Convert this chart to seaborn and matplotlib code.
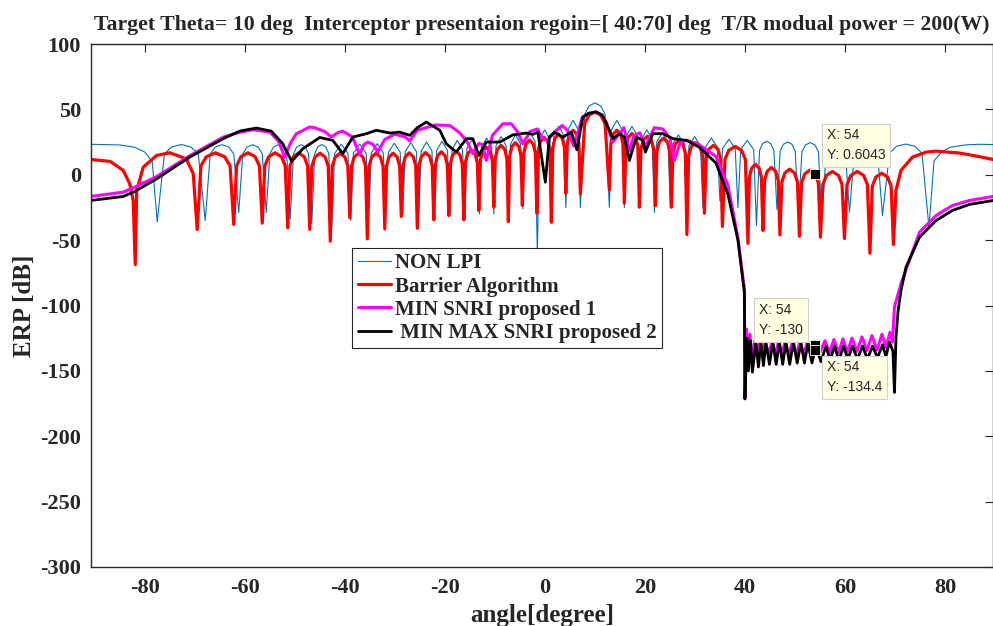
import matplotlib
matplotlib.use("Agg")
import matplotlib.pyplot as plt
import seaborn as sns

# NON LPI (uniform weights): peak / shoulder / null vertices
nonlpi_deg = [-90.8, -85.0, -82.0, -80.0, -78.5, -77.5,
              -76.06, -74.6, -72.7, -70.8, -69.3, -67.9,
              -66.9, -65.9, -64.55, -63.2, -62.2, -61.2,
              -60.4, -59.55, -58.45, -57.35, -56.5, -55.7,
              -54.98, -54.26, -53.3, -52.34, -51.62, -50.9,
              -50.26, -49.61, -48.75, -47.89, -47.25, -46.6,
              -46.0, -45.4, -44.6, -43.8, -43.2, -42.6,
              -42.03, -40.7, -39.37, -38.8,
              -38.26, -37.0, -35.74, -35.2,
              -34.69, -33.5, -32.31, -31.8,
              -31.29, -30.1, -28.91, -28.4,
              -27.92, -26.8, -25.68, -25.2,
              -24.73, -23.65, -22.57, -22.1,
              -21.63, -20.55, -19.47, -19.0,
              -18.55, -17.5, -16.45, -16.0,
              -15.57, -14.55, -13.54, -13.1,
              -12.67, -11.65, -10.64, -10.2,
              -9.77, -8.75, -7.74, -7.3,
              -6.87, -5.85, -4.84, -4.4,
              -3.97, -2.95, -1.94, -1.5,
              -1.07, -0.05, 0.97, 1.4,
              1.82, 2.8, 3.78, 4.2,
              4.64, 5.65, 6.67, 7.1,
              7.97, 8.84, 10.0, 11.16, 12.03, 12.9,
              13.35, 14.4, 15.45, 15.9,
              16.35, 17.4, 18.45, 18.9,
              19.35, 20.4, 21.45, 21.9,
              22.38, 23.5, 24.62, 25.1,
              25.58, 26.7, 27.82, 28.3,
              28.8, 29.95, 31.1, 31.6,
              32.11, 33.3, 34.49, 35.0,
              35.54, 36.8, 38.06, 38.6,
              39.16, 40.45, 41.75, 42.3,
              42.92, 43.53, 44.35, 45.17, 45.79, 46.4,
              47.05, 47.69, 48.55, 49.41, 50.06, 50.7,
              51.4, 52.11, 53.05, 53.99, 54.7, 55.4,
              56.23, 57.05, 58.15, 59.25, 60.08, 60.9,
              61.89, 62.88, 64.2, 65.52, 66.51, 67.5,
              68.9, 70.29, 72.15, 74.01, 75.4, 76.8,
              77.8, 79.3, 81.0, 84.0, 87.0, 89.6]
nonlpi_db = [23.3, 22.8, 21.0, 17.4, 10.2, -36,
             16.1, 21.3, 23.1, 21.3, 16.1, -35,
             16.0, 21.2, 23.0, 21.2, 16.0, -29,
             16.0, 21.2, 23.0, 21.2, 16.0, -29,
             16.0, 21.2, 23.0, 21.2, 16.0, -34,
             16.0, 21.2, 23.0, 21.2, 16.0, -37.5,
             16.1, 21.3, 23.1, 21.3, 16.1, -41,
             16.3, 23.3, 16.3, -35,
             16.5, 23.5, 16.5, -30,
             16.8, 23.8, 16.8, -30,
             17.1, 24.1, 17.1, -30,
             17.6, 24.6, 17.6, -30,
             18.1, 25.1, 18.1, -30,
             18.6, 25.6, 18.6, -30,
             19.3, 26.3, 19.3, -30,
             20.1, 27.1, 20.1, -30,
             21.1, 28.1, 21.1, -30,
             22.2, 29.2, 22.2, -30,
             23.5, 30.5, 23.5, -26,
             25.2, 32.2, 25.2, -60,
             27.3, 34.3, 27.3, -25,
             30.1, 37.1, 30.1, -25,
             34.6, 41.6, 34.6, -25,
             46.3, 52.6, 55.0, 52.6, 46.3, -25,
             34.6, 41.6, 34.6, -25,
             30.1, 37.1, 30.1, -25,
             27.3, 34.3, 27.3, -28.6,
             25.2, 32.2, 25.2, -25,
             23.5, 30.5, 23.5, -25,
             22.2, 29.2, 22.2, -25,
             21.1, 28.1, 21.1, -20,
             20.1, 27.1, 20.1, -25.3,
             19.3, 26.3, 19.3, -38.8,
             18.6, 23.8, 25.6, 23.8, 18.6, -26.6,
             18.1, 23.3, 25.1, 23.3, 18.1, -29,
             17.6, 22.8, 24.6, 22.8, 17.6, -35,
             17.1, 22.3, 24.1, 22.3, 17.1, -28.6,
             16.8, 22.0, 23.8, 22.0, 16.8, -31.2,
             16.5, 21.7, 23.5, 21.7, 16.5, -40.6,
             10.5, 17.4, 21.0, 22.8, 23.3, 23.1]

# Barrier Algorithm: nulls, lobe flanks and lobe tops
barrier_deg = [-90.8, -86.9, -84.3, -83.0, -82.3, -81.9,
               -81.6, -80.3, -77.6, -75.0, -71.7, -70.3, -69.5,
               -68.77, -67.675, -65.85, -64.025, -62.93, -62.2,
               -61.63, -60.775, -59.35, -57.925, -57.07, -56.5,
               -55.99, -55.225, -53.95, -52.675, -51.91, -51.4,
               -50.96, -50.3, -49.2, -48.1, -47.44, -47.0,
               -46.59, -45.975, -44.95, -43.925, -43.31, -42.9,
               -42.51, -41.925, -40.95, -39.975, -39.39, -39.0,
               -38.65, -38.125, -37.25, -36.375, -35.85, -35.5,
               -35.15, -34.625, -33.75, -32.875, -32.35, -32.0,
               -31.67, -31.175, -30.35, -29.525, -29.03, -28.7,
               -28.38, -27.9, -27.1, -26.3, -25.82, -25.5,
               -25.17, -24.675, -23.85, -23.025, -22.53, -22.2,
               -21.9, -21.45, -20.7, -19.95, -19.5, -19.2,
               -18.9, -18.45, -17.7, -16.95, -16.5, -16.2,
               -15.9, -15.45, -14.7, -13.95, -13.5, -13.2,
               -12.9, -12.45, -11.7, -10.95, -10.5, -10.2,
               -9.91, -9.475, -8.75, -8.025, -7.59, -7.3,
               -7.02, -6.6, -5.9, -5.2, -4.78, -4.5,
               -4.21, -3.775, -3.05, -2.325, -1.89, -1.6,
               -1.31, -0.875, -0.15, 0.575, 1.01, 1.3,
               1.59, 2.025, 2.75, 3.475, 3.91, 4.2,
               4.49, 4.925, 5.65, 6.375, 6.81, 7.1,
               7.97, 8.84, 10.0, 11.16, 12.03, 12.9,
               13.2, 13.65, 14.4, 15.15, 15.6, 15.9,
               16.2, 16.65, 17.4, 18.15, 18.6, 18.9,
               19.22, 19.7, 20.5, 21.3, 21.78, 22.1,
               22.42, 22.9, 23.7, 24.5, 24.98, 25.3,
               25.61, 26.075, 26.85, 27.625, 28.09, 28.4,
               28.75, 29.275, 30.15, 31.025, 31.55, 31.9,
               32.26, 32.8, 33.7, 34.6, 35.14, 35.5,
               36.01, 36.775, 38.05, 39.325, 40.09, 40.6,
               40.9, 41.35, 42.1, 42.85, 43.3, 43.6,
               43.94, 44.45, 45.3, 46.15, 46.66, 47.0,
               47.39, 47.975, 48.95, 49.925, 50.51, 50.9,
               51.32, 51.95, 53.0, 54.05, 54.68, 55.1,
               55.58, 56.3, 57.5, 58.7, 59.42, 59.9,
               60.41, 61.175, 62.45, 63.725, 64.49, 65.0,
               65.47, 66.175, 67.35, 68.525, 69.23, 69.7,
               70.2, 71.2, 73.5, 76.2, 78.2, 82.9, 86.0, 89.6]
barrier_db = [11.7, 10.2, 3.3, -6.8, -19.7, -68.7,
              -12.0, 5.8, 14.8, 16.8, 12.2, 0.8, -42.0,
              6.8, 13.8, 16.8, 13.8, 6.8, -38.0,
              6.8, 13.8, 16.8, 13.8, 6.8, -37.0,
              6.8, 13.8, 16.8, 13.8, 6.8, -40.6,
              6.7, 13.7, 16.7, 13.7, 6.7, -41.8,
              6.5, 13.5, 16.5, 13.5, 6.5, -50.8,
              6.5, 13.5, 16.5, 13.5, 6.5, -32.9,
              6.5, 13.5, 16.5, 13.5, 6.5, -49.0,
              6.5, 13.5, 16.5, 13.5, 6.5, -41.4,
              6.5, 13.5, 16.5, 13.5, 6.5, -31.9,
              6.8, 13.8, 16.8, 13.8, 6.8, -40.9,
              7.0, 14.0, 17.0, 14.0, 7.0, -34.5,
              7.5, 14.5, 17.5, 14.5, 7.5, -31.2,
              8.0, 15.0, 18.0, 15.0, 8.0, -34.5,
              9.0, 16.0, 19.0, 16.0, 9.0, -27.3,
              11.0, 18.0, 21.0, 18.0, 11.0, -24.8,
              12.5, 19.5, 22.5, 19.5, 12.5, -35.8,
              14.5, 21.5, 24.5, 21.5, 14.5, -23.5,
              16.5, 23.5, 26.5, 23.5, 16.5, -29.4,
              18.5, 25.5, 28.5, 25.5, 18.5, -36.3,
              21.0, 28.0, 31.0, 28.0, 21.0, -14.1,
              24.0, 31.0, 34.0, 31.0, 24.0, -14.6,
              39.3, 45.6, 48.0, 45.6, 39.3, -11.5,
              24.0, 31.0, 34.0, 31.0, 24.0, -21.7,
              21.5, 28.5, 31.5, 28.5, 21.5, -24.8,
              19.5, 26.5, 29.5, 26.5, 19.5, -23.7,
              18.0, 25.0, 28.0, 25.0, 18.0, -24.8,
              16.5, 23.5, 26.5, 23.5, 16.5, -45.7,
              14.5, 21.5, 24.5, 21.5, 14.5, -29.4,
              12.5, 19.5, 22.5, 19.5, 12.5, -39.5,
              11.7, 18.7, 21.7, 18.7, 11.7, -52.5,
              -2.0, 5.0, 8.0, 5.0, -2.0, -42.6,
              -4.4, 2.6, 5.6, 2.6, -4.4, -46.0,
              -5.7, 1.3, 4.3, 1.3, -5.7, -47.0,
              -6.4, 0.6, 3.6, 0.6, -6.4, -47.8,
              -7.5, -0.5, 2.5, -0.5, -7.5, -48.8,
              -7.5, -0.5, 2.5, -0.5, -7.5, -60.0,
              -8.8, -1.8, 1.2, -1.8, -8.8, -53.4,
              -12.0, 3.3, 13.5, 17.3, 18.1, 16.6, 14.5, 11.7]

# MIN SNRI proposed 1
snri1_deg = [-90.8, -84.3, -82.0, -77.6, -71.0, -64.3, -61.0, -58.3, -55.0, -53.3,
             -52.0, -50.9, -49.7, -47.0, -46.0, -44.0, -42.7, -41.5, -40.4, -38.5,
             -37.0, -36.2, -35.4, -34.3, -33.4, -32.0, -30.0, -28.0, -27.0, -25.5,
             -22.0, -19.0, -17.0, -15.5, -14.4, -13.2, -12.5, -11.7, -10.5, -8.4,
             -6.7, -5.5, -4.4, -3.0, -1.5, -0.5, 0.5, 2.0, 3.5, 4.5,
             5.8, 7.5, 8.8, 10.3, 11.5, 12.3, 13.6, 14.8, 15.8, 16.9,
             17.8, 19.0, 20.1, 21.9, 23.6, 25.0, 25.9, 27.0, 28.3, 30.9,
             34.2, 36.6, 38.6, 39.9, 40.0,
             40.3, 40.6, 41.0, 41.4, 42.0, 42.5, 43.0, 43.5, 44.0, 44.7,
             45.4, 46.1, 46.7, 47.4, 48.0, 48.8, 49.5, 50.3, 51.0, 51.8,
             52.5, 53.3, 54.0, 55.0, 56.0, 56.9, 57.8, 58.7, 59.6, 60.5,
             61.4, 62.4, 63.4, 64.4, 65.4, 66.4, 67.4, 68.2, 69.0, 69.5,
             69.9, 71.2, 74.9, 78.2, 81.5, 84.9, 89.6]
snri1_db = [-16.6, -13.3, -9.5, -1.3, 14.5, 28.8, 32.5, 34.5, 32.6, 26.0,
            13.5, 24.0, 31.4, 36.5, 36.0, 33.0, 28.8, 32.0, 33.4, 29.0,
            15.5, 23.0, 25.0, 23.0, 17.3, 27.0, 31.0, 29.0, 26.0, 34.0,
            38.0, 37.7, 32.0, 25.0, 16.1, 24.0, 23.0, 10.9, 30.0, 39.0,
            39.0, 33.0, 23.7, 33.0, 35.0, 28.0, 26.0, 33.0, 37.7, 34.0,
            22.0, 44.0, 47.0, 48.0, 45.5, 40.0, 25.0, 31.0, 36.0, 18.0,
            30.0, 32.0, 22.0, 36.0, 35.0, 28.0, 10.9, 24.0, 26.5, 22.8,
            14.0, -8.0, -48.0, -88.0, -171.0,
            -118, -140, -122, -140, -127, -137, -128, -137, -128, -137,
            -128, -137, -128, -137, -128, -137, -128, -137, -128, -137,
            -128, -137, -130, -136, -127, -136, -126, -136, -125.5, -135.5,
            -125, -135, -124, -134.5, -123, -134, -122, -132, -120.5, -128,
            -101.0, -83.5, -44.0, -31.2, -23.5, -19.7, -16.6]

# MIN MAX SNRI proposed 2
snri2_deg = [-90.8, -84.3, -82.0, -77.6, -71.0, -64.3, -61.0, -57.7, -54.7, -52.4,
             -50.6, -48.4, -45.0, -42.4, -40.4, -38.4, -35.7, -33.7, -31.0, -29.0,
             -27.0, -25.5, -23.7, -21.0, -19.7, -17.7, -15.7, -14.4, -13.2, -11.7,
             -9.0, -6.4, -3.7, -2.4, -1.4, 0.1, 0.9, 1.9, 3.6, 5.3,
             6.4, 7.6, 8.8, 10.3, 11.5, 12.3, 13.6, 14.9, 15.9, 16.9,
             18.3, 19.6, 20.1, 21.6, 23.6, 25.6, 28.3, 30.9, 34.2, 36.6,
             38.6, 39.9, 40.0,
             40.4, 40.7, 41.1, 41.5, 42.2, 42.7, 43.2, 43.7, 44.2, 44.9,
             45.6, 46.25, 46.9, 47.55, 48.2, 48.95, 49.7, 50.45, 51.2, 51.9,
             52.6, 53.4, 54.2, 55.2, 56.2, 57.05, 57.9, 58.8, 59.7, 60.6,
             61.5, 62.5, 63.5, 64.5, 65.5, 66.5, 67.5, 68.2, 68.9, 69.6,
             69.9, 70.2, 70.6, 71.2, 72.2, 74.9, 78.2, 81.5, 84.9, 89.6]
snri2_db = [-19.7, -16.6, -12.8, -3.1, 13.5, 27.6, 33.4, 35.7, 33.4, 23.7,
            10.2, 19.9, 28.5, 26.3, 16.1, 28.8, 31.4, 34.0, 31.9, 32.6,
            30.1, 36.0, 40.3, 34.0, 23.7, 17.3, 27.6, 27.6, 14.8, 25.0,
            25.0, 30.5, 31.9, 30.9, 32.6, -5.7, 28.8, 32.6, 28.8, 32.6,
            19.1, 44.1, 47.0, 48.0, 45.5, 39.0, 27.6, 31.4, 28.8, 10.9,
            28.8, 26.3, 17.3, 31.4, 31.4, 27.6, 26.3, 21.0, 9.0, -15.0,
            -50.0, -90.0, -171.5,
            -125, -150, -127, -151, -128, -147, -128, -146, -128, -145,
            -128, -145, -128, -145, -128, -145, -128, -144, -128.5, -144,
            -129, -144, -131, -143, -131, -142, -131, -142, -131, -141,
            -131, -141, -131, -141, -131, -140, -130, -139, -128, -135,
            -166.5, -125.0, -105.0, -88.6, -70.7, -47.8, -35.0, -27.3, -22.7, -19.7]

series_labels = ["NON LPI", "Barrier Algorithm", "MIN SNRI proposed 1", " MIN MAX SNRI proposed 2"]
series_colors = ["#0072BD", "#FF0000", "#FF00FF", "#000000"]

tip_x = 54
tip_y = [0.6043, -130, -134.4]
tip_text = ["X: 54\nY: 0.6043", "X: 54\nY: -130", "X: 54\nY: -134.4"]

sns.set_style("white")
plt.rcParams['font.family'] = ['Liberation Serif', 'DejaVu Serif']
plt.rcParams['axes.unicode_minus'] = False

fig = plt.figure(figsize=(9.93, 6.26), dpi=100)
ax = fig.add_axes([90.7 / 993, 59 / 626, 902.3 / 993, 523 / 626])

widths = [0.8, 2.3, 2.2, 2.0]
all_data = [(nonlpi_deg, nonlpi_db), (barrier_deg, barrier_db),
            (snri1_deg, snri1_db), (snri2_deg, snri2_db)]
for (d, v), lab, col, lw in zip(all_data, series_labels, series_colors, widths):
    sns.lineplot(x=d, y=v, ax=ax, color=col, linewidth=lw, label=lab,
                 sort=False, estimator=None)

# data tips
ax.plot([tip_x] * 3, tip_y, linestyle="none", marker="s", markersize=7,
        color="black", markeredgecolor="#FFFFE1", markeredgewidth=0.6, zorder=6)
tip_offsets = [(12, 12, "left", "bottom"), (-12, 8, "right", "bottom"), (12, -10, "left", "top")]
for ty, tt, (dx, dy, ha, va) in zip(tip_y, tip_text, tip_offsets):
    ax.annotate(tt, xy=(tip_x, ty), xytext=(dx, dy), textcoords="offset pixels",
                ha=ha, va=va, multialignment="left", fontsize=10,
                family=["Liberation Sans", "DejaVu Sans"],
                color="#262626", linespacing=1.5, zorder=7,
                bbox=dict(boxstyle="square,pad=0.35", facecolor="#FFFFE1",
                          edgecolor="#D0D0D0", linewidth=0.8))

ax.set_xlim(-90.8, 89.6)
ax.set_ylim(-300, 100)
ax.set_xticks(range(-80, 81, 20))
ax.set_yticks(range(-300, 101, 50))
ax.tick_params(direction="in", top=True, right=True, length=6, width=0.8,
               labelsize=16, colors="#262626")
ax.tick_params(axis="x", pad=8)
ax.tick_params(axis="y", pad=7)
for lbl in ax.get_xticklabels() + ax.get_yticklabels():
    lbl.set_fontweight("bold")
for sp in ax.spines.values():
    sp.set_color("#262626")
    sp.set_linewidth(1.0)

ax.set_xlabel("angle[degree]", fontsize=18, fontweight="bold", labelpad=4)
ax.set_ylabel("ERP [dB]", fontsize=18, fontweight="bold", labelpad=3)
ax.set_title("Target Theta= 10 deg  Interceptor presentaion regoin=[ 40:70] deg  T/R modual power = 200(W)",
             fontsize=15.7, fontweight="bold", pad=10)

leg = ax.legend(loc="upper left", bbox_to_anchor=(0.290, 0.6094), borderaxespad=0,
                fancybox=False, framealpha=1, edgecolor="#262626",
                prop={"size": 15, "weight": "bold"}, handlelength=1.6,
                handletextpad=0.2, labelspacing=0.15, borderpad=0.25)
leg.get_frame().set_linewidth(0.8)

fig.savefig("out.png", dpi=100)
